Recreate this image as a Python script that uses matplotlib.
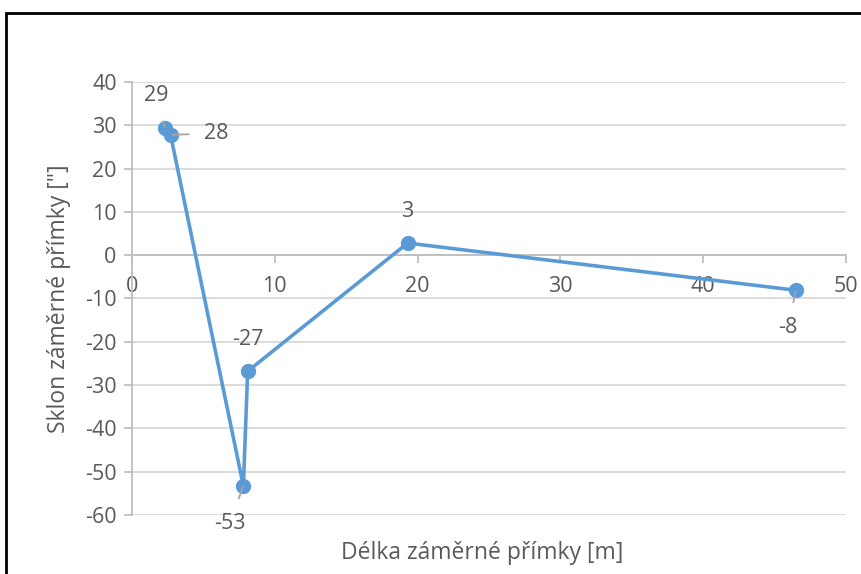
import matplotlib.pyplot as plt
from matplotlib.patches import Rectangle

# data
delka = [2.3, 2.7, 7.8, 8.1, 19.3, 46.5]
sklon = [29.4, 27.8, -53.3, -26.8, 2.8, -8.1]
popisky = ['29', '28', '-53', '-27', '3', '-8']
# label offsets in points (dx, dy) and whether a leader line is drawn
posuny = [(-6, 23), (33, 1), (-10, -27), (0, 23), (0, 23), (-6, -27)]
vodici = [True, True, True, False, False, True]

plt.rcParams['font.family'] = ['Open Sans', 'DejaVu Sans']
plt.rcParams['axes.unicode_minus'] = False
sedy_text = '#595959'
modra = '#5B9BD5'

fig = plt.figure(figsize=(8.62, 5.74), dpi=100)
ax = fig.add_axes([132 / 862, 1 - 515 / 574, (846 - 132) / 862, (515 - 82) / 574])

ax.plot(delka, sklon, color=modra, lw=2.6, marker='o', ms=10, zorder=3)

for x, y, t, (dx, dy), v in zip(delka, sklon, popisky, posuny, vodici):
    if v:
        ax.annotate(t, (x, y), xytext=(dx, dy), textcoords='offset points',
                    ha='center', va='center', fontsize=15.5, color=sedy_text,
                    arrowprops=dict(arrowstyle='-', color='#A6A6A6', lw=1.3,
                                    shrinkA=9, shrinkB=1))
    else:
        ax.annotate(t, (x, y), xytext=(dx, dy), textcoords='offset points',
                    ha='center', va='center', fontsize=15.5, color=sedy_text)

ax.set_xlim(0, 50)
ax.set_ylim(-60, 40)
ax.set_xticks(range(0, 51, 10))
ax.set_yticks(range(-60, 41, 10))
ax.grid(axis='y', color='#D9D9D9', lw=1.3)
ax.set_axisbelow(True)

for s in ['top', 'right']:
    ax.spines[s].set_visible(False)
ax.spines['left'].set_color('#BFBFBF')
ax.spines['left'].set_linewidth(1.3)
ax.spines['bottom'].set_position(('data', 0))
ax.spines['bottom'].set_color('#BFBFBF')
ax.spines['bottom'].set_linewidth(1.3)
ax.tick_params(axis='both', colors='#BFBFBF', labelcolor=sedy_text,
               labelsize=15.5, length=6, width=1.3)
ax.tick_params(axis='x', pad=9)
ax.tick_params(axis='y', pad=5)

ax.set_xlabel('Délka záměrné přímky [m]', fontsize=16.5, color=sedy_text)
ax.xaxis.set_label_coords(0.49, -0.06)
ax.set_ylabel('Sklon záměrné přímky ["]', fontsize=16.5, color=sedy_text)
ax.yaxis.set_label_coords(-0.085, 0.5)

# black frame of the chart area
fig.patches.append(Rectangle((6 / 862, -0.1), 1.2, 1.1 - 13 / 574,
                             transform=fig.transFigure, fill=False,
                             edgecolor='black', lw=2, zorder=10))

fig.savefig('out.png', dpi=100)
